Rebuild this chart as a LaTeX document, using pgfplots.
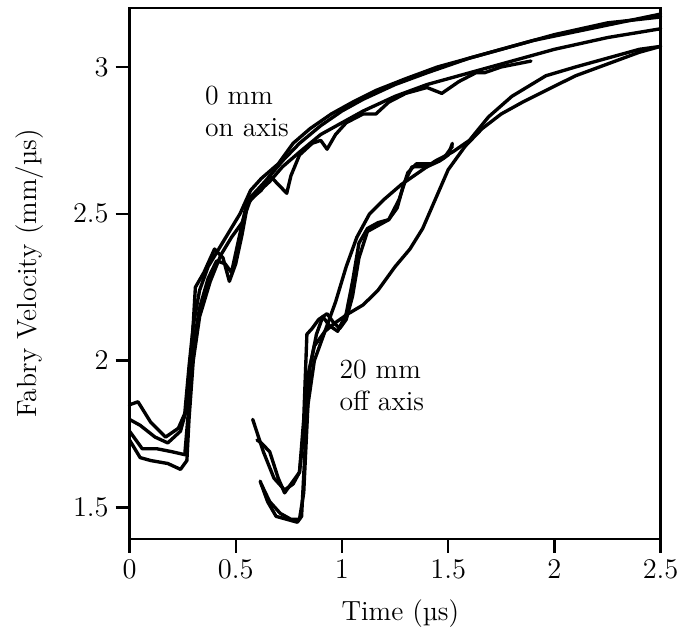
\documentclass[border=0pt]{standalone}
\usepackage{pgfplots}
\pgfplotsset{compat=1.18}
\begin{document}
\begin{tikzpicture}
\begin{axis}[
  scale only axis,
  width=268.5pt, height=268.5pt,
  xmin=0, xmax=2.5, ymin=1.393, ymax=3.201,
  xtick={0,0.5,1,1.5,2,2.5},
  ytick={1.5,2,2.5,3},
  xtick pos=bottom, ytick pos=left,
  tick align=outside,
  major tick length=7pt,
  axis line style={line width=1.2pt},
  every tick/.style={line width=1.2pt, black},
  tick label style={font=\fontsize{14}{16}\selectfont},
  label style={font=\fontsize{14}{16}\selectfont},
  xlabel={Time (µs)},
  ylabel={Fabry Velocity (mm/µs)},
  xlabel style={at={(axis description cs:0.51,-0.14)}, anchor=center},
  ylabel style={at={(axis description cs:-0.188,0.5)}, anchor=center},
  clip=false,
  curve/.style={black, solid, line width=1.7pt, line join=round, line cap=round, mark=none},
]
% on axis group
\addplot[curve] coordinates {(0,1.85)(0.04,1.86)(0.1,1.79)(0.17,1.74)(0.23,1.77)(0.26,1.82)(0.28,1.98)(0.30,2.12)(0.33,2.24)(0.37,2.32)(0.42,2.38)(0.47,2.44)(0.52,2.50)(0.57,2.58)(0.62,2.62)(0.7,2.67)(0.77,2.74)(0.85,2.79)(0.95,2.84)(1.05,2.88)(1.16,2.92)(1.3,2.96)(1.45,3.0)(1.6,3.03)(1.75,3.06)(1.9,3.09)(2.1,3.12)(2.3,3.15)(2.5,3.18)};
\addplot[curve] coordinates {(0,1.80)(0.05,1.78)(0.12,1.74)(0.18,1.72)(0.24,1.76)(0.27,1.84)(0.29,2.0)(0.31,2.25)(0.35,2.30)(0.40,2.38)(0.44,2.35)(0.47,2.27)(0.50,2.33)(0.53,2.43)(0.56,2.55)(0.6,2.58)(0.65,2.62)(0.72,2.68)(0.8,2.74)(0.9,2.80)(1.0,2.85)(1.1,2.89)(1.25,2.94)(1.4,2.98)(1.6,3.03)(1.8,3.07)(2.0,3.11)(2.25,3.15)(2.5,3.17)};
\addplot[curve] coordinates {(0,1.76)(0.06,1.70)(0.13,1.70)(0.2,1.69)(0.26,1.68)(0.28,1.85)(0.30,2.05)(0.33,2.18)(0.37,2.28)(0.41,2.34)(0.45,2.33)(0.48,2.30)(0.51,2.40)(0.55,2.53)(0.6,2.57)(0.66,2.61)(0.72,2.66)(0.8,2.71)(0.9,2.77)(1.0,2.81)(1.1,2.85)(1.25,2.9)(1.4,2.94)(1.6,2.98)(1.8,3.02)(2.0,3.06)(2.25,3.10)(2.5,3.13)};
\addplot[curve] coordinates {(0,1.73)(0.05,1.67)(0.1,1.66)(0.18,1.65)(0.24,1.63)(0.27,1.66)(0.28,1.8)(0.30,2.0)(0.33,2.15)(0.38,2.27)(0.43,2.36)(0.48,2.42)(0.53,2.47)(0.57,2.55)(0.62,2.58)(0.66,2.63)(0.70,2.60)(0.74,2.57)(0.76,2.63)(0.8,2.70)(0.86,2.74)(0.9,2.75)(0.93,2.72)(0.97,2.77)(1.02,2.81)(1.1,2.84)(1.16,2.84)(1.22,2.88)(1.3,2.91)(1.4,2.93)(1.47,2.91)(1.55,2.95)(1.63,2.98)(1.67,2.98)(1.75,3.00)(1.89,3.02)};
% off axis group
\addplot[curve] coordinates {(0.58,1.80)(0.63,1.69)(0.68,1.60)(0.73,1.56)(0.77,1.58)(0.80,1.62)(0.82,1.75)(0.84,1.95)(0.87,2.05)(0.92,2.10)(0.97,2.13)(1.03,2.16)(1.10,2.19)(1.17,2.24)(1.25,2.32)(1.32,2.38)(1.38,2.45)(1.44,2.55)(1.50,2.65)(1.58,2.73)(1.66,2.79)(1.75,2.84)(1.85,2.88)(1.96,2.92)(2.1,2.97)(2.25,3.01)(2.4,3.05)(2.5,3.07)};
\addplot[curve] coordinates {(0.60,1.73)(0.62,1.72)(0.66,1.69)(0.70,1.60)(0.73,1.55)(0.76,1.58)(0.80,1.62)(0.82,1.8)(0.835,2.09)(0.86,2.11)(0.89,2.14)(0.93,2.16)(0.96,2.13)(0.99,2.11)(1.02,2.14)(1.05,2.22)(1.08,2.35)(1.12,2.44)(1.17,2.46)(1.22,2.48)(1.26,2.52)(1.29,2.60)(1.33,2.66)(1.40,2.66)(1.46,2.68)(1.50,2.70)(1.52,2.74)};
\addplot[curve] coordinates {(0.615,1.59)(0.65,1.52)(0.69,1.47)(0.74,1.46)(0.79,1.45)(0.81,1.47)(0.83,1.75)(0.85,1.98)(0.88,2.09)(0.91,2.15)(0.94,2.12)(0.98,2.10)(1.02,2.16)(1.05,2.27)(1.08,2.40)(1.12,2.45)(1.17,2.47)(1.22,2.48)(1.27,2.55)(1.31,2.64)(1.35,2.67)(1.42,2.67)(1.48,2.69)(1.52,2.73)};
\addplot[curve] coordinates {(0.62,1.58)(0.66,1.52)(0.71,1.48)(0.76,1.46)(0.80,1.46)(0.82,1.55)(0.84,1.85)(0.87,2.0)(0.92,2.10)(0.97,2.20)(1.02,2.32)(1.07,2.42)(1.13,2.50)(1.2,2.55)(1.28,2.60)(1.36,2.64)(1.44,2.68)(1.52,2.71)(1.60,2.75)(1.69,2.83)(1.8,2.90)(1.96,2.97)(2.1,3.0)(2.25,3.03)(2.4,3.06)(2.5,3.07)};
\node[anchor=north west, align=left, inner sep=0pt, font=\fontsize{14}{16}\selectfont] at (axis cs:0.354,2.935) {0 mm\\on axis};
\node[anchor=north west, align=left, inner sep=0pt, font=\fontsize{14}{16}\selectfont] at (axis cs:0.987,2.002) {20 mm\\off axis};
\path (rel axis cs:-0.2439,-0.1750) rectangle (rel axis cs:1.0317,1.0149);
\end{axis}
\end{tikzpicture}
\end{document}
